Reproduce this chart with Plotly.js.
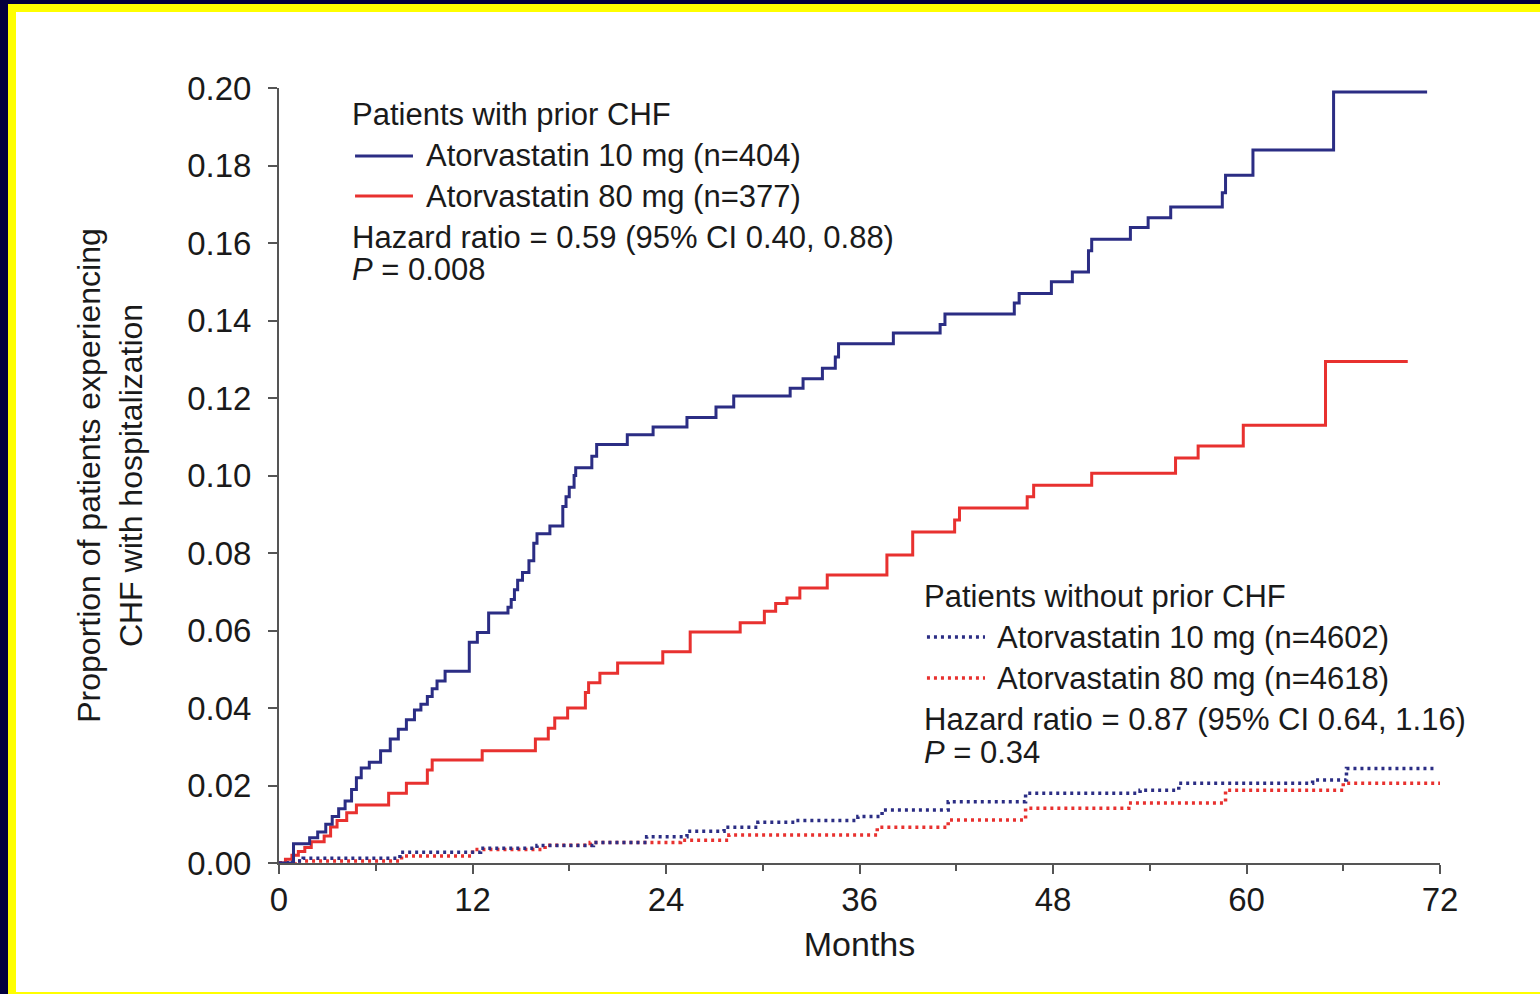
<!DOCTYPE html>
<html>
<head>
<meta charset="utf-8">
<script src="https://cdn.plot.ly/plotly-3.0.1.min.js"></script>
<style>
  html, body { margin: 0; padding: 0; background: #03003d; width: 1540px; height: 994px; overflow: hidden; }
  #frame { position: absolute; left: 8px; top: 4px; width: 1532px; height: 990px; background: #ffff00; }
  #chart { position: absolute; left: 8px; top: 8px; width: 1524px; height: 980px; background: #ffffff; }
</style>
</head>
<body>
<div id="frame"><div id="chart"></div></div>
<script>
// Kaplan-Meier style cumulative incidence of CHF hospitalisation (months, proportion)

// Patients with prior CHF, atorvastatin 10 mg
const prior10Months = [0, 0.9, 1.9, 2.4, 2.9, 3.3, 3.7, 4.1, 4.5, 4.8, 5.1, 5.6, 6.3, 6.9, 7.4, 7.9, 8.4, 8.8, 9.2, 9.5, 9.8, 10.3,
  11.8, 12.3, 13.0, 14.2, 14.4, 14.6, 14.8, 15.1, 15.5, 15.8, 16.0, 16.8, 17.6, 17.8, 18.0, 18.3, 18.4, 19.4, 19.7,
  21.6, 23.2, 25.3, 27.1, 28.2, 31.7, 32.5, 33.7, 34.5, 34.7, 38.1, 41.0, 41.3, 45.6, 45.9, 47.9, 49.2, 50.2, 50.4,
  52.8, 53.9, 55.3, 58.5, 58.7, 60.4, 65.4, 71.2];
const prior10Values = [0, 0.005, 0.0065, 0.008, 0.010, 0.012, 0.014, 0.016, 0.019, 0.022, 0.0245, 0.026, 0.029, 0.032, 0.0345, 0.037, 0.0395, 0.041, 0.043, 0.045, 0.047, 0.0495,
  0.057, 0.0595, 0.0645, 0.066, 0.068, 0.0705, 0.073, 0.075, 0.078, 0.0825, 0.085, 0.087, 0.092, 0.0945, 0.097, 0.100, 0.102, 0.105, 0.108,
  0.1105, 0.1125, 0.115, 0.1177, 0.1205, 0.1225, 0.125, 0.1277, 0.1306, 0.134, 0.1368, 0.139, 0.1417, 0.1445, 0.147, 0.150, 0.1525, 0.158, 0.161,
  0.164, 0.1665, 0.1693, 0.173, 0.1775, 0.184, 0.199, 0.199];

// Patients with prior CHF, atorvastatin 80 mg
const prior80Months = [0, 0.4, 0.8, 1.2, 1.6, 2.0, 2.8, 3.2, 3.6, 4.2, 4.8, 6.8, 7.9, 9.2, 9.5, 12.6, 15.9, 16.7, 17.1, 17.9, 19.0, 19.2, 19.9,
  21.0, 23.8, 25.5, 28.6, 30.1, 30.8, 31.5, 32.3, 34.0, 37.7, 39.3, 41.9, 42.2, 46.4, 46.8, 50.4, 55.6, 57.0, 59.8, 64.9, 70.0];
const prior80Values = [0, 0.001, 0.002, 0.003, 0.004, 0.0055, 0.007, 0.0093, 0.011, 0.013, 0.015, 0.018, 0.0206, 0.024, 0.0266, 0.029, 0.032, 0.0348, 0.0374, 0.040, 0.044, 0.0465, 0.049,
  0.0516, 0.0545, 0.0596, 0.062, 0.065, 0.067, 0.0684, 0.071, 0.0743, 0.0795, 0.0854, 0.0885, 0.0916, 0.0945, 0.0975, 0.1006, 0.1045, 0.1076, 0.113, 0.1294, 0.1294];

// Patients without prior CHF, atorvastatin 10 mg
const noPrior10Months = [0, 0.5, 1.5, 7.5, 12.5, 16.0, 19.5, 22.8, 25.3, 27.6, 29.7, 32.0, 35.9, 37.4, 41.5, 46.3, 53.4, 55.8, 64.1, 66.2, 71.7];
const noPrior10Values = [0, 0.0005, 0.0012, 0.0028, 0.0038, 0.0045, 0.0053, 0.0068, 0.0082, 0.0092, 0.0105, 0.011, 0.012, 0.0137, 0.0158, 0.018, 0.0188, 0.0206, 0.0214, 0.0244, 0.0244];

// Patients without prior CHF, atorvastatin 80 mg
const noPrior80Months = [0, 1.0, 7.6, 12.0, 16.5, 19.3, 24.9, 27.9, 37.1, 41.5, 46.3, 52.7, 58.7, 66.0, 72.0];
const noPrior80Values = [0, 0.0005, 0.0018, 0.0035, 0.0046, 0.0053, 0.0059, 0.0072, 0.0092, 0.0111, 0.0141, 0.0155, 0.0188, 0.0206, 0.0206];

const seriesNames = [
  'Atorvastatin 10 mg (n=404)', 'Atorvastatin 80 mg (n=377)',
  'Atorvastatin 10 mg (n=4602)', 'Atorvastatin 80 mg (n=4618)'
];
const xTicks = [0, 12, 24, 36, 48, 60, 72];
const yTicks = [0, 0.02, 0.04, 0.06, 0.08, 0.10, 0.12, 0.14, 0.16, 0.18, 0.20];

const BLUE = '#2b2d84';
const RED = '#e8312f';
const FONT = 'Liberation Sans, Arial, Helvetica, sans-serif';
const TXT = '#1a1a1a';

function km(x, y, color, dash, name) {
  return {
    x: x, y: y, name: name, type: 'scatter', mode: 'lines',
    line: { shape: 'hv', color: color, width: dash ? 3.5 : 3, dash: dash || 'solid' },
    hoverinfo: 'skip', showlegend: false
  };
}

const data = [
  km(noPrior80Months, noPrior80Values, RED, '3px,4px', seriesNames[3]),
  km(noPrior10Months, noPrior10Values, BLUE, '3px,4px', seriesNames[2]),
  km(prior80Months, prior80Values, RED, null, seriesNames[1]),
  km(prior10Months, prior10Values, BLUE, null, seriesNames[0])
];

// Key positions, in plot-area fractions
const k1x = 0.0612, k1seg = [0.0655, 0.1154], k1tx = 0.1250;
const k2x = 0.5538, k2seg = [0.5581, 0.6081], k2tx = 0.6167;

function note(x, y, text) {
  return { xref: 'paper', yref: 'paper', x: x, y: y, xanchor: 'left', yanchor: 'middle',
           text: text, showarrow: false, font: { family: FONT, size: 31, color: TXT } };
}
function keyLine(x0, x1, y, color, dash) {
  return { type: 'line', xref: 'paper', yref: 'paper', x0: x0, x1: x1, y0: y, y1: y,
           line: { color: color, width: dash ? 3.5 : 3, dash: dash || 'solid' } };
}

const layout = {
  width: 1524, height: 980,
  margin: { l: 263, r: 100, t: 76, b: 129 },
  paper_bgcolor: '#ffffff', plot_bgcolor: '#ffffff',
  font: { family: FONT, color: TXT },
  xaxis: {
    range: [0, 72], tickvals: xTicks, ticktext: xTicks.map(String),
    showline: true, linecolor: '#555555', linewidth: 2, showgrid: false, zeroline: false,
    ticks: 'outside', ticklen: 9, tickwidth: 2, tickcolor: '#555555',
    minor: { dtick: 6, tick0: 0, ticks: 'outside', ticklen: 6, tickwidth: 2, tickcolor: '#555555' },
    tickfont: { family: FONT, size: 33, color: TXT },
    ticklabelstandoff: -3,
    title: { text: 'Months', font: { family: FONT, size: 34, color: TXT }, standoff: 16 }
  },
  yaxis: {
    range: [0, 0.2], tickvals: yTicks, ticktext: yTicks.map(v => v.toFixed(2)),
    showline: true, linecolor: '#555555', linewidth: 2, showgrid: false, zeroline: false,
    ticks: 'outside', ticklen: 9, tickwidth: 2, tickcolor: '#555555',
    tickfont: { family: FONT, size: 33, color: TXT },
    ticklabelstandoff: 10,
    title: { text: 'Proportion of patients experiencing<br>CHF with hospitalization',
             font: { family: FONT, size: 32, color: TXT }, standoff: 35 }
  },
  shapes: [
    keyLine(k1seg[0], k1seg[1], 0.9123, BLUE),
    keyLine(k1seg[0], k1seg[1], 0.8606, RED),
    keyLine(k2seg[0], k2seg[1], 0.2916, BLUE, '3px,4px'),
    keyLine(k2seg[0], k2seg[1], 0.2387, RED, '3px,4px')
  ],
  annotations: [
    note(k1x, 0.9652, 'Patients with prior CHF'),
    note(k1tx, 0.9123, seriesNames[0]),
    note(k1tx, 0.8606, seriesNames[1]),
    note(k1x, 0.8077, 'Hazard ratio = 0.59 (95% CI 0.40, 0.88)'),
    note(k1x, 0.7652, '<i>P</i> = 0.008'),
    note(k2x, 0.3445, 'Patients without prior CHF'),
    note(k2tx, 0.2916, seriesNames[2]),
    note(k2tx, 0.2387, seriesNames[3]),
    note(k2x, 0.1858, 'Hazard ratio = 0.87 (95% CI 0.64, 1.16)'),
    note(k2x, 0.1432, '<i>P</i> = 0.34')
  ]
};

Plotly.newPlot('chart', data, layout, { staticPlot: true, displayModeBar: false });
</script>
</body>
</html>
